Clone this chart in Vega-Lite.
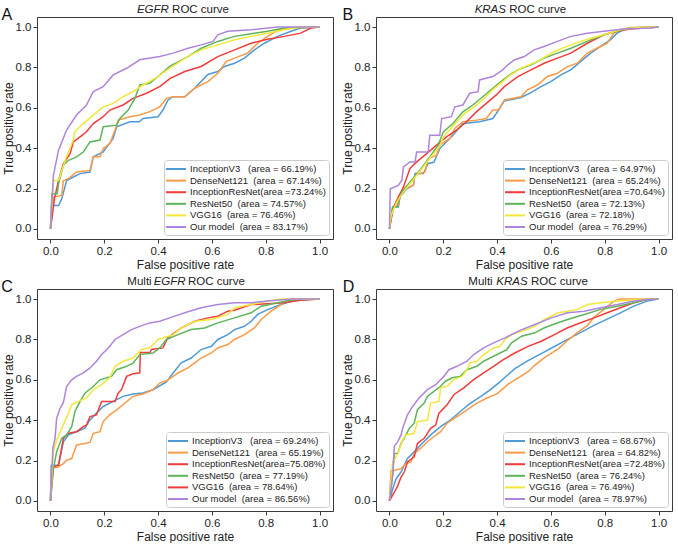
{
"$schema": "https://vega.github.io/schema/vega-lite/v6.json",
"padding": {"left": 0, "top": 3, "right": 0, "bottom": 0},
"spacing": 4,
"resolve": {"scale": {"x": "independent", "y": "independent", "color": "independent", "stroke": "independent"}, "legend": {"color": "independent"}},
"datasets": {
"A": [
{"model":"InceptionV3","fpr":0,"tpr":0},{"model":"InceptionV3","fpr":0.011,"tpr":0.116},{"model":"InceptionV3","fpr":0.03,"tpr":0.116},{"model":"InceptionV3","fpr":0.042,"tpr":0.149},{"model":"InceptionV3","fpr":0.06,"tpr":0.24},{"model":"InceptionV3","fpr":0.085,"tpr":0.257},{"model":"InceptionV3","fpr":0.11,"tpr":0.274},{"model":"InceptionV3","fpr":0.147,"tpr":0.282},{"model":"InceptionV3","fpr":0.159,"tpr":0.357},{"model":"InceptionV3","fpr":0.196,"tpr":0.381},{"model":"InceptionV3","fpr":0.233,"tpr":0.448},{"model":"InceptionV3","fpr":0.246,"tpr":0.506},{"model":"InceptionV3","fpr":0.295,"tpr":0.531},{"model":"InceptionV3","fpr":0.33,"tpr":0.531},{"model":"InceptionV3","fpr":0.344,"tpr":0.547},{"model":"InceptionV3","fpr":0.4,"tpr":0.556},{"model":"InceptionV3","fpr":0.418,"tpr":0.589},{"model":"InceptionV3","fpr":0.437,"tpr":0.639},{"model":"InceptionV3","fpr":0.456,"tpr":0.655},{"model":"InceptionV3","fpr":0.499,"tpr":0.655},{"model":"InceptionV3","fpr":0.536,"tpr":0.697},{"model":"InceptionV3","fpr":0.585,"tpr":0.765},{"model":"InceptionV3","fpr":0.622,"tpr":0.78},{"model":"InceptionV3","fpr":0.647,"tpr":0.805},{"model":"InceptionV3","fpr":0.684,"tpr":0.821},{"model":"InceptionV3","fpr":0.721,"tpr":0.846},{"model":"InceptionV3","fpr":0.758,"tpr":0.887},{"model":"InceptionV3","fpr":0.795,"tpr":0.92},{"model":"InceptionV3","fpr":0.844,"tpr":0.954},{"model":"InceptionV3","fpr":0.894,"tpr":0.979},{"model":"InceptionV3","fpr":0.93,"tpr":0.995},{"model":"InceptionV3","fpr":1,"tpr":1},
{"model":"DenseNet121","fpr":0,"tpr":0},{"model":"DenseNet121","fpr":0.011,"tpr":0.158},{"model":"DenseNet121","fpr":0.042,"tpr":0.166},{"model":"DenseNet121","fpr":0.048,"tpr":0.24},{"model":"DenseNet121","fpr":0.067,"tpr":0.249},{"model":"DenseNet121","fpr":0.097,"tpr":0.282},{"model":"DenseNet121","fpr":0.147,"tpr":0.29},{"model":"DenseNet121","fpr":0.159,"tpr":0.357},{"model":"DenseNet121","fpr":0.184,"tpr":0.357},{"model":"DenseNet121","fpr":0.196,"tpr":0.398},{"model":"DenseNet121","fpr":0.221,"tpr":0.423},{"model":"DenseNet121","fpr":0.24,"tpr":0.49},{"model":"DenseNet121","fpr":0.252,"tpr":0.539},{"model":"DenseNet121","fpr":0.295,"tpr":0.556},{"model":"DenseNet121","fpr":0.332,"tpr":0.564},{"model":"DenseNet121","fpr":0.369,"tpr":0.581},{"model":"DenseNet121","fpr":0.406,"tpr":0.605},{"model":"DenseNet121","fpr":0.431,"tpr":0.647},{"model":"DenseNet121","fpr":0.456,"tpr":0.655},{"model":"DenseNet121","fpr":0.499,"tpr":0.655},{"model":"DenseNet121","fpr":0.536,"tpr":0.697},{"model":"DenseNet121","fpr":0.585,"tpr":0.73},{"model":"DenseNet121","fpr":0.622,"tpr":0.771},{"model":"DenseNet121","fpr":0.653,"tpr":0.829},{"model":"DenseNet121","fpr":0.684,"tpr":0.846},{"model":"DenseNet121","fpr":0.733,"tpr":0.871},{"model":"DenseNet121","fpr":0.77,"tpr":0.92},{"model":"DenseNet121","fpr":0.807,"tpr":0.954},{"model":"DenseNet121","fpr":0.844,"tpr":0.984},{"model":"DenseNet121","fpr":0.869,"tpr":0.995},{"model":"DenseNet121","fpr":1,"tpr":1},
{"model":"InceptionResNet","fpr":0,"tpr":0},{"model":"InceptionResNet","fpr":0.015,"tpr":0.15},{"model":"InceptionResNet","fpr":0.03,"tpr":0.24},{"model":"InceptionResNet","fpr":0.048,"tpr":0.323},{"model":"InceptionResNet","fpr":0.073,"tpr":0.373},{"model":"InceptionResNet","fpr":0.085,"tpr":0.431},{"model":"InceptionResNet","fpr":0.11,"tpr":0.456},{"model":"InceptionResNet","fpr":0.134,"tpr":0.481},{"model":"InceptionResNet","fpr":0.159,"tpr":0.522},{"model":"InceptionResNet","fpr":0.196,"tpr":0.556},{"model":"InceptionResNet","fpr":0.221,"tpr":0.589},{"model":"InceptionResNet","fpr":0.27,"tpr":0.614},{"model":"InceptionResNet","fpr":0.307,"tpr":0.647},{"model":"InceptionResNet","fpr":0.357,"tpr":0.672},{"model":"InceptionResNet","fpr":0.406,"tpr":0.705},{"model":"InceptionResNet","fpr":0.445,"tpr":0.746},{"model":"InceptionResNet","fpr":0.499,"tpr":0.78},{"model":"InceptionResNet","fpr":0.56,"tpr":0.805},{"model":"InceptionResNet","fpr":0.622,"tpr":0.854},{"model":"InceptionResNet","fpr":0.684,"tpr":0.887},{"model":"InceptionResNet","fpr":0.746,"tpr":0.92},{"model":"InceptionResNet","fpr":0.807,"tpr":0.94},{"model":"InceptionResNet","fpr":0.869,"tpr":0.954},{"model":"InceptionResNet","fpr":0.93,"tpr":0.97},{"model":"InceptionResNet","fpr":0.968,"tpr":0.995},{"model":"InceptionResNet","fpr":1,"tpr":1},
{"model":"ResNet50","fpr":0,"tpr":0},{"model":"ResNet50","fpr":0.005,"tpr":0.174},{"model":"ResNet50","fpr":0.025,"tpr":0.174},{"model":"ResNet50","fpr":0.03,"tpr":0.224},{"model":"ResNet50","fpr":0.048,"tpr":0.315},{"model":"ResNet50","fpr":0.067,"tpr":0.34},{"model":"ResNet50","fpr":0.097,"tpr":0.357},{"model":"ResNet50","fpr":0.122,"tpr":0.381},{"model":"ResNet50","fpr":0.147,"tpr":0.431},{"model":"ResNet50","fpr":0.184,"tpr":0.44},{"model":"ResNet50","fpr":0.196,"tpr":0.506},{"model":"ResNet50","fpr":0.246,"tpr":0.514},{"model":"ResNet50","fpr":0.258,"tpr":0.547},{"model":"ResNet50","fpr":0.289,"tpr":0.589},{"model":"ResNet50","fpr":0.314,"tpr":0.647},{"model":"ResNet50","fpr":0.332,"tpr":0.713},{"model":"ResNet50","fpr":0.369,"tpr":0.721},{"model":"ResNet50","fpr":0.4,"tpr":0.755},{"model":"ResNet50","fpr":0.443,"tpr":0.805},{"model":"ResNet50","fpr":0.511,"tpr":0.854},{"model":"ResNet50","fpr":0.56,"tpr":0.895},{"model":"ResNet50","fpr":0.622,"tpr":0.929},{"model":"ResNet50","fpr":0.684,"tpr":0.954},{"model":"ResNet50","fpr":0.746,"tpr":0.967},{"model":"ResNet50","fpr":0.807,"tpr":0.979},{"model":"ResNet50","fpr":0.869,"tpr":0.995},{"model":"ResNet50","fpr":1,"tpr":1},
{"model":"VGG16","fpr":0,"tpr":0},{"model":"VGG16","fpr":0.011,"tpr":0.24},{"model":"VGG16","fpr":0.03,"tpr":0.24},{"model":"VGG16","fpr":0.06,"tpr":0.36},{"model":"VGG16","fpr":0.085,"tpr":0.44},{"model":"VGG16","fpr":0.09,"tpr":0.48},{"model":"VGG16","fpr":0.122,"tpr":0.522},{"model":"VGG16","fpr":0.159,"tpr":0.564},{"model":"VGG16","fpr":0.196,"tpr":0.605},{"model":"VGG16","fpr":0.233,"tpr":0.622},{"model":"VGG16","fpr":0.27,"tpr":0.655},{"model":"VGG16","fpr":0.307,"tpr":0.68},{"model":"VGG16","fpr":0.344,"tpr":0.713},{"model":"VGG16","fpr":0.394,"tpr":0.75},{"model":"VGG16","fpr":0.437,"tpr":0.79},{"model":"VGG16","fpr":0.511,"tpr":0.855},{"model":"VGG16","fpr":0.56,"tpr":0.887},{"model":"VGG16","fpr":0.622,"tpr":0.912},{"model":"VGG16","fpr":0.684,"tpr":0.937},{"model":"VGG16","fpr":0.746,"tpr":0.954},{"model":"VGG16","fpr":0.807,"tpr":0.97},{"model":"VGG16","fpr":0.869,"tpr":0.987},{"model":"VGG16","fpr":0.93,"tpr":1},{"model":"VGG16","fpr":1,"tpr":1},
{"model":"Our model","fpr":0,"tpr":0},{"model":"Our model","fpr":0.011,"tpr":0.266},{"model":"Our model","fpr":0.03,"tpr":0.39},{"model":"Our model","fpr":0.06,"tpr":0.49},{"model":"Our model","fpr":0.097,"tpr":0.564},{"model":"Our model","fpr":0.134,"tpr":0.614},{"model":"Our model","fpr":0.159,"tpr":0.68},{"model":"Our model","fpr":0.196,"tpr":0.705},{"model":"Our model","fpr":0.233,"tpr":0.763},{"model":"Our model","fpr":0.283,"tpr":0.796},{"model":"Our model","fpr":0.332,"tpr":0.838},{"model":"Our model","fpr":0.406,"tpr":0.854},{"model":"Our model","fpr":0.456,"tpr":0.871},{"model":"Our model","fpr":0.511,"tpr":0.895},{"model":"Our model","fpr":0.56,"tpr":0.912},{"model":"Our model","fpr":0.604,"tpr":0.929},{"model":"Our model","fpr":0.622,"tpr":0.962},{"model":"Our model","fpr":0.659,"tpr":0.979},{"model":"Our model","fpr":0.746,"tpr":0.987},{"model":"Our model","fpr":0.844,"tpr":1},{"model":"Our model","fpr":1,"tpr":1}
],
"B": [
{"model":"InceptionV3","fpr":0,"tpr":0},{"model":"InceptionV3","fpr":0.012,"tpr":0.108},{"model":"InceptionV3","fpr":0.033,"tpr":0.108},{"model":"InceptionV3","fpr":0.039,"tpr":0.158},{"model":"InceptionV3","fpr":0.064,"tpr":0.199},{"model":"InceptionV3","fpr":0.089,"tpr":0.216},{"model":"InceptionV3","fpr":0.095,"tpr":0.274},{"model":"InceptionV3","fpr":0.126,"tpr":0.274},{"model":"InceptionV3","fpr":0.144,"tpr":0.324},{"model":"InceptionV3","fpr":0.165,"tpr":0.33},{"model":"InceptionV3","fpr":0.187,"tpr":0.398},{"model":"InceptionV3","fpr":0.236,"tpr":0.464},{"model":"InceptionV3","fpr":0.273,"tpr":0.522},{"model":"InceptionV3","fpr":0.335,"tpr":0.531},{"model":"InceptionV3","fpr":0.384,"tpr":0.547},{"model":"InceptionV3","fpr":0.397,"tpr":0.572},{"model":"InceptionV3","fpr":0.427,"tpr":0.634},{"model":"InceptionV3","fpr":0.489,"tpr":0.651},{"model":"InceptionV3","fpr":0.526,"tpr":0.675},{"model":"InceptionV3","fpr":0.563,"tpr":0.705},{"model":"InceptionV3","fpr":0.6,"tpr":0.73},{"model":"InceptionV3","fpr":0.637,"tpr":0.763},{"model":"InceptionV3","fpr":0.674,"tpr":0.788},{"model":"InceptionV3","fpr":0.711,"tpr":0.83},{"model":"InceptionV3","fpr":0.748,"tpr":0.871},{"model":"InceptionV3","fpr":0.784,"tpr":0.904},{"model":"InceptionV3","fpr":0.821,"tpr":0.937},{"model":"InceptionV3","fpr":0.846,"tpr":0.97},{"model":"InceptionV3","fpr":0.87,"tpr":0.987},{"model":"InceptionV3","fpr":0.9,"tpr":0.995},{"model":"InceptionV3","fpr":1,"tpr":1},
{"model":"DenseNet121","fpr":0,"tpr":0},{"model":"DenseNet121","fpr":0.012,"tpr":0.108},{"model":"DenseNet121","fpr":0.033,"tpr":0.116},{"model":"DenseNet121","fpr":0.039,"tpr":0.166},{"model":"DenseNet121","fpr":0.058,"tpr":0.199},{"model":"DenseNet121","fpr":0.089,"tpr":0.216},{"model":"DenseNet121","fpr":0.095,"tpr":0.266},{"model":"DenseNet121","fpr":0.132,"tpr":0.282},{"model":"DenseNet121","fpr":0.144,"tpr":0.348},{"model":"DenseNet121","fpr":0.175,"tpr":0.365},{"model":"DenseNet121","fpr":0.187,"tpr":0.415},{"model":"DenseNet121","fpr":0.224,"tpr":0.448},{"model":"DenseNet121","fpr":0.243,"tpr":0.498},{"model":"DenseNet121","fpr":0.273,"tpr":0.531},{"model":"DenseNet121","fpr":0.323,"tpr":0.539},{"model":"DenseNet121","fpr":0.36,"tpr":0.547},{"model":"DenseNet121","fpr":0.384,"tpr":0.589},{"model":"DenseNet121","fpr":0.405,"tpr":0.589},{"model":"DenseNet121","fpr":0.427,"tpr":0.639},{"model":"DenseNet121","fpr":0.489,"tpr":0.655},{"model":"DenseNet121","fpr":0.513,"tpr":0.689},{"model":"DenseNet121","fpr":0.55,"tpr":0.713},{"model":"DenseNet121","fpr":0.587,"tpr":0.755},{"model":"DenseNet121","fpr":0.624,"tpr":0.771},{"model":"DenseNet121","fpr":0.661,"tpr":0.804},{"model":"DenseNet121","fpr":0.698,"tpr":0.821},{"model":"DenseNet121","fpr":0.735,"tpr":0.871},{"model":"DenseNet121","fpr":0.772,"tpr":0.895},{"model":"DenseNet121","fpr":0.809,"tpr":0.92},{"model":"DenseNet121","fpr":0.834,"tpr":0.97},{"model":"DenseNet121","fpr":0.858,"tpr":0.987},{"model":"DenseNet121","fpr":0.895,"tpr":0.998},{"model":"DenseNet121","fpr":1,"tpr":1},
{"model":"InceptionResNet","fpr":0,"tpr":0},{"model":"InceptionResNet","fpr":0.015,"tpr":0.108},{"model":"InceptionResNet","fpr":0.033,"tpr":0.158},{"model":"InceptionResNet","fpr":0.052,"tpr":0.208},{"model":"InceptionResNet","fpr":0.076,"tpr":0.299},{"model":"InceptionResNet","fpr":0.101,"tpr":0.332},{"model":"InceptionResNet","fpr":0.138,"tpr":0.373},{"model":"InceptionResNet","fpr":0.175,"tpr":0.415},{"model":"InceptionResNet","fpr":0.212,"tpr":0.456},{"model":"InceptionResNet","fpr":0.249,"tpr":0.489},{"model":"InceptionResNet","fpr":0.286,"tpr":0.531},{"model":"InceptionResNet","fpr":0.323,"tpr":0.58},{"model":"InceptionResNet","fpr":0.36,"tpr":0.622},{"model":"InceptionResNet","fpr":0.397,"tpr":0.664},{"model":"InceptionResNet","fpr":0.427,"tpr":0.705},{"model":"InceptionResNet","fpr":0.477,"tpr":0.755},{"model":"InceptionResNet","fpr":0.526,"tpr":0.788},{"model":"InceptionResNet","fpr":0.575,"tpr":0.821},{"model":"InceptionResNet","fpr":0.624,"tpr":0.846},{"model":"InceptionResNet","fpr":0.674,"tpr":0.871},{"model":"InceptionResNet","fpr":0.735,"tpr":0.92},{"model":"InceptionResNet","fpr":0.797,"tpr":0.962},{"model":"InceptionResNet","fpr":0.846,"tpr":0.979},{"model":"InceptionResNet","fpr":0.895,"tpr":0.99},{"model":"InceptionResNet","fpr":1,"tpr":1},
{"model":"ResNet50","fpr":0,"tpr":0},{"model":"ResNet50","fpr":0.012,"tpr":0.108},{"model":"ResNet50","fpr":0.027,"tpr":0.108},{"model":"ResNet50","fpr":0.046,"tpr":0.184},{"model":"ResNet50","fpr":0.076,"tpr":0.233},{"model":"ResNet50","fpr":0.113,"tpr":0.291},{"model":"ResNet50","fpr":0.15,"tpr":0.357},{"model":"ResNet50","fpr":0.181,"tpr":0.415},{"model":"ResNet50","fpr":0.2,"tpr":0.481},{"model":"ResNet50","fpr":0.236,"tpr":0.522},{"model":"ResNet50","fpr":0.273,"tpr":0.58},{"model":"ResNet50","fpr":0.31,"tpr":0.614},{"model":"ResNet50","fpr":0.347,"tpr":0.655},{"model":"ResNet50","fpr":0.384,"tpr":0.697},{"model":"ResNet50","fpr":0.421,"tpr":0.738},{"model":"ResNet50","fpr":0.446,"tpr":0.763},{"model":"ResNet50","fpr":0.477,"tpr":0.788},{"model":"ResNet50","fpr":0.526,"tpr":0.813},{"model":"ResNet50","fpr":0.575,"tpr":0.846},{"model":"ResNet50","fpr":0.624,"tpr":0.871},{"model":"ResNet50","fpr":0.674,"tpr":0.895},{"model":"ResNet50","fpr":0.735,"tpr":0.929},{"model":"ResNet50","fpr":0.797,"tpr":0.962},{"model":"ResNet50","fpr":0.858,"tpr":0.984},{"model":"ResNet50","fpr":0.895,"tpr":0.995},{"model":"ResNet50","fpr":1,"tpr":1},
{"model":"VGG16","fpr":0,"tpr":0},{"model":"VGG16","fpr":0.006,"tpr":0.066},{"model":"VGG16","fpr":0.027,"tpr":0.133},{"model":"VGG16","fpr":0.05,"tpr":0.18},{"model":"VGG16","fpr":0.08,"tpr":0.23},{"model":"VGG16","fpr":0.113,"tpr":0.285},{"model":"VGG16","fpr":0.15,"tpr":0.35},{"model":"VGG16","fpr":0.187,"tpr":0.41},{"model":"VGG16","fpr":0.2,"tpr":0.455},{"model":"VGG16","fpr":0.236,"tpr":0.51},{"model":"VGG16","fpr":0.273,"tpr":0.565},{"model":"VGG16","fpr":0.31,"tpr":0.6},{"model":"VGG16","fpr":0.347,"tpr":0.64},{"model":"VGG16","fpr":0.384,"tpr":0.69},{"model":"VGG16","fpr":0.421,"tpr":0.73},{"model":"VGG16","fpr":0.446,"tpr":0.76},{"model":"VGG16","fpr":0.489,"tpr":0.796},{"model":"VGG16","fpr":0.55,"tpr":0.83},{"model":"VGG16","fpr":0.612,"tpr":0.879},{"model":"VGG16","fpr":0.674,"tpr":0.912},{"model":"VGG16","fpr":0.735,"tpr":0.94},{"model":"VGG16","fpr":0.797,"tpr":0.962},{"model":"VGG16","fpr":0.858,"tpr":0.987},{"model":"VGG16","fpr":0.9,"tpr":0.995},{"model":"VGG16","fpr":1,"tpr":1},
{"model":"Our model","fpr":0,"tpr":0},{"model":"Our model","fpr":0.003,"tpr":0.199},{"model":"Our model","fpr":0.033,"tpr":0.216},{"model":"Our model","fpr":0.046,"tpr":0.241},{"model":"Our model","fpr":0.052,"tpr":0.307},{"model":"Our model","fpr":0.076,"tpr":0.332},{"model":"Our model","fpr":0.095,"tpr":0.332},{"model":"Our model","fpr":0.101,"tpr":0.381},{"model":"Our model","fpr":0.144,"tpr":0.381},{"model":"Our model","fpr":0.15,"tpr":0.464},{"model":"Our model","fpr":0.187,"tpr":0.464},{"model":"Our model","fpr":0.194,"tpr":0.547},{"model":"Our model","fpr":0.23,"tpr":0.556},{"model":"Our model","fpr":0.243,"tpr":0.605},{"model":"Our model","fpr":0.273,"tpr":0.614},{"model":"Our model","fpr":0.298,"tpr":0.672},{"model":"Our model","fpr":0.329,"tpr":0.68},{"model":"Our model","fpr":0.335,"tpr":0.738},{"model":"Our model","fpr":0.384,"tpr":0.755},{"model":"Our model","fpr":0.421,"tpr":0.788},{"model":"Our model","fpr":0.44,"tpr":0.813},{"model":"Our model","fpr":0.464,"tpr":0.837},{"model":"Our model","fpr":0.501,"tpr":0.854},{"model":"Our model","fpr":0.538,"tpr":0.887},{"model":"Our model","fpr":0.575,"tpr":0.904},{"model":"Our model","fpr":0.624,"tpr":0.929},{"model":"Our model","fpr":0.674,"tpr":0.954},{"model":"Our model","fpr":0.735,"tpr":0.97},{"model":"Our model","fpr":0.797,"tpr":0.979},{"model":"Our model","fpr":0.846,"tpr":0.987},{"model":"Our model","fpr":0.87,"tpr":0.99},{"model":"Our model","fpr":0.97,"tpr":0.995},{"model":"Our model","fpr":1,"tpr":1}
],
"C": [
{"model":"InceptionV3","fpr":0,"tpr":0},{"model":"InceptionV3","fpr":0.003,"tpr":0.177},{"model":"InceptionV3","fpr":0.03,"tpr":0.177},{"model":"InceptionV3","fpr":0.048,"tpr":0.293},{"model":"InceptionV3","fpr":0.067,"tpr":0.327},{"model":"InceptionV3","fpr":0.097,"tpr":0.343},{"model":"InceptionV3","fpr":0.128,"tpr":0.36},{"model":"InceptionV3","fpr":0.147,"tpr":0.401},{"model":"InceptionV3","fpr":0.171,"tpr":0.435},{"model":"InceptionV3","fpr":0.196,"tpr":0.468},{"model":"InceptionV3","fpr":0.233,"tpr":0.493},{"model":"InceptionV3","fpr":0.27,"tpr":0.518},{"model":"InceptionV3","fpr":0.307,"tpr":0.53},{"model":"InceptionV3","fpr":0.344,"tpr":0.535},{"model":"InceptionV3","fpr":0.381,"tpr":0.551},{"model":"InceptionV3","fpr":0.431,"tpr":0.59},{"model":"InceptionV3","fpr":0.456,"tpr":0.634},{"model":"InceptionV3","fpr":0.486,"tpr":0.684},{"model":"InceptionV3","fpr":0.523,"tpr":0.708},{"model":"InceptionV3","fpr":0.56,"tpr":0.75},{"model":"InceptionV3","fpr":0.598,"tpr":0.766},{"model":"InceptionV3","fpr":0.622,"tpr":0.8},{"model":"InceptionV3","fpr":0.659,"tpr":0.824},{"model":"InceptionV3","fpr":0.684,"tpr":0.849},{"model":"InceptionV3","fpr":0.721,"tpr":0.865},{"model":"InceptionV3","fpr":0.746,"tpr":0.89},{"model":"InceptionV3","fpr":0.77,"tpr":0.924},{"model":"InceptionV3","fpr":0.807,"tpr":0.948},{"model":"InceptionV3","fpr":0.857,"tpr":0.973},{"model":"InceptionV3","fpr":0.906,"tpr":0.994},{"model":"InceptionV3","fpr":1,"tpr":1},
{"model":"DenseNet121","fpr":0,"tpr":0},{"model":"DenseNet121","fpr":0.003,"tpr":0.16},{"model":"DenseNet121","fpr":0.03,"tpr":0.169},{"model":"DenseNet121","fpr":0.048,"tpr":0.185},{"model":"DenseNet121","fpr":0.06,"tpr":0.202},{"model":"DenseNet121","fpr":0.079,"tpr":0.21},{"model":"DenseNet121","fpr":0.097,"tpr":0.277},{"model":"DenseNet121","fpr":0.128,"tpr":0.285},{"model":"DenseNet121","fpr":0.147,"tpr":0.29},{"model":"DenseNet121","fpr":0.159,"tpr":0.335},{"model":"DenseNet121","fpr":0.184,"tpr":0.343},{"model":"DenseNet121","fpr":0.196,"tpr":0.393},{"model":"DenseNet121","fpr":0.22,"tpr":0.426},{"model":"DenseNet121","fpr":0.246,"tpr":0.451},{"model":"DenseNet121","fpr":0.277,"tpr":0.485},{"model":"DenseNet121","fpr":0.307,"tpr":0.518},{"model":"DenseNet121","fpr":0.344,"tpr":0.53},{"model":"DenseNet121","fpr":0.381,"tpr":0.551},{"model":"DenseNet121","fpr":0.406,"tpr":0.584},{"model":"DenseNet121","fpr":0.431,"tpr":0.595},{"model":"DenseNet121","fpr":0.456,"tpr":0.617},{"model":"DenseNet121","fpr":0.474,"tpr":0.634},{"model":"DenseNet121","fpr":0.511,"tpr":0.659},{"model":"DenseNet121","fpr":0.536,"tpr":0.684},{"model":"DenseNet121","fpr":0.56,"tpr":0.708},{"model":"DenseNet121","fpr":0.598,"tpr":0.733},{"model":"DenseNet121","fpr":0.622,"tpr":0.758},{"model":"DenseNet121","fpr":0.659,"tpr":0.775},{"model":"DenseNet121","fpr":0.684,"tpr":0.8},{"model":"DenseNet121","fpr":0.721,"tpr":0.824},{"model":"DenseNet121","fpr":0.758,"tpr":0.857},{"model":"DenseNet121","fpr":0.783,"tpr":0.899},{"model":"DenseNet121","fpr":0.82,"tpr":0.94},{"model":"DenseNet121","fpr":0.857,"tpr":0.973},{"model":"DenseNet121","fpr":0.881,"tpr":0.998},{"model":"DenseNet121","fpr":1,"tpr":1},
{"model":"InceptionResNet","fpr":0,"tpr":0},{"model":"InceptionResNet","fpr":0.011,"tpr":0.169},{"model":"InceptionResNet","fpr":0.03,"tpr":0.177},{"model":"InceptionResNet","fpr":0.048,"tpr":0.31},{"model":"InceptionResNet","fpr":0.067,"tpr":0.335},{"model":"InceptionResNet","fpr":0.097,"tpr":0.343},{"model":"InceptionResNet","fpr":0.122,"tpr":0.368},{"model":"InceptionResNet","fpr":0.134,"tpr":0.376},{"model":"InceptionResNet","fpr":0.147,"tpr":0.418},{"model":"InceptionResNet","fpr":0.171,"tpr":0.426},{"model":"InceptionResNet","fpr":0.19,"tpr":0.493},{"model":"InceptionResNet","fpr":0.24,"tpr":0.493},{"model":"InceptionResNet","fpr":0.252,"tpr":0.535},{"model":"InceptionResNet","fpr":0.264,"tpr":0.551},{"model":"InceptionResNet","fpr":0.283,"tpr":0.617},{"model":"InceptionResNet","fpr":0.307,"tpr":0.63},{"model":"InceptionResNet","fpr":0.332,"tpr":0.635},{"model":"InceptionResNet","fpr":0.334,"tpr":0.735},{"model":"InceptionResNet","fpr":0.37,"tpr":0.735},{"model":"InceptionResNet","fpr":0.375,"tpr":0.75},{"model":"InceptionResNet","fpr":0.418,"tpr":0.758},{"model":"InceptionResNet","fpr":0.437,"tpr":0.81},{"model":"InceptionResNet","fpr":0.486,"tpr":0.857},{"model":"InceptionResNet","fpr":0.536,"tpr":0.89},{"model":"InceptionResNet","fpr":0.585,"tpr":0.907},{"model":"InceptionResNet","fpr":0.622,"tpr":0.915},{"model":"InceptionResNet","fpr":0.659,"tpr":0.94},{"model":"InceptionResNet","fpr":0.684,"tpr":0.945},{"model":"InceptionResNet","fpr":0.746,"tpr":0.973},{"model":"InceptionResNet","fpr":0.807,"tpr":0.977},{"model":"InceptionResNet","fpr":0.869,"tpr":0.982},{"model":"InceptionResNet","fpr":0.93,"tpr":0.994},{"model":"InceptionResNet","fpr":1,"tpr":1},
{"model":"ResNet50","fpr":0,"tpr":0},{"model":"ResNet50","fpr":0.011,"tpr":0.16},{"model":"ResNet50","fpr":0.023,"tpr":0.244},{"model":"ResNet50","fpr":0.042,"tpr":0.31},{"model":"ResNet50","fpr":0.06,"tpr":0.327},{"model":"ResNet50","fpr":0.079,"tpr":0.368},{"model":"ResNet50","fpr":0.091,"tpr":0.443},{"model":"ResNet50","fpr":0.11,"tpr":0.493},{"model":"ResNet50","fpr":0.128,"tpr":0.534},{"model":"ResNet50","fpr":0.159,"tpr":0.567},{"model":"ResNet50","fpr":0.184,"tpr":0.6},{"model":"ResNet50","fpr":0.227,"tpr":0.617},{"model":"ResNet50","fpr":0.246,"tpr":0.65},{"model":"ResNet50","fpr":0.283,"tpr":0.667},{"model":"ResNet50","fpr":0.307,"tpr":0.683},{"model":"ResNet50","fpr":0.332,"tpr":0.725},{"model":"ResNet50","fpr":0.381,"tpr":0.733},{"model":"ResNet50","fpr":0.406,"tpr":0.758},{"model":"ResNet50","fpr":0.431,"tpr":0.8},{"model":"ResNet50","fpr":0.474,"tpr":0.824},{"model":"ResNet50","fpr":0.523,"tpr":0.849},{"model":"ResNet50","fpr":0.573,"tpr":0.857},{"model":"ResNet50","fpr":0.622,"tpr":0.882},{"model":"ResNet50","fpr":0.684,"tpr":0.907},{"model":"ResNet50","fpr":0.746,"tpr":0.932},{"model":"ResNet50","fpr":0.783,"tpr":0.965},{"model":"ResNet50","fpr":0.844,"tpr":0.982},{"model":"ResNet50","fpr":0.906,"tpr":0.998},{"model":"ResNet50","fpr":1,"tpr":1},
{"model":"VGG16","fpr":0,"tpr":0},{"model":"VGG16","fpr":0.011,"tpr":0.244},{"model":"VGG16","fpr":0.023,"tpr":0.3},{"model":"VGG16","fpr":0.042,"tpr":0.36},{"model":"VGG16","fpr":0.067,"tpr":0.435},{"model":"VGG16","fpr":0.079,"tpr":0.476},{"model":"VGG16","fpr":0.104,"tpr":0.493},{"model":"VGG16","fpr":0.134,"tpr":0.51},{"model":"VGG16","fpr":0.159,"tpr":0.551},{"model":"VGG16","fpr":0.19,"tpr":0.576},{"model":"VGG16","fpr":0.22,"tpr":0.61},{"model":"VGG16","fpr":0.24,"tpr":0.667},{"model":"VGG16","fpr":0.27,"tpr":0.692},{"model":"VGG16","fpr":0.307,"tpr":0.708},{"model":"VGG16","fpr":0.338,"tpr":0.75},{"model":"VGG16","fpr":0.369,"tpr":0.758},{"model":"VGG16","fpr":0.4,"tpr":0.8},{"model":"VGG16","fpr":0.456,"tpr":0.824},{"model":"VGG16","fpr":0.486,"tpr":0.857},{"model":"VGG16","fpr":0.536,"tpr":0.89},{"model":"VGG16","fpr":0.598,"tpr":0.899},{"model":"VGG16","fpr":0.659,"tpr":0.924},{"model":"VGG16","fpr":0.684,"tpr":0.957},{"model":"VGG16","fpr":0.746,"tpr":0.973},{"model":"VGG16","fpr":0.807,"tpr":0.99},{"model":"VGG16","fpr":0.857,"tpr":1},{"model":"VGG16","fpr":1,"tpr":1},
{"model":"Our model","fpr":0,"tpr":0},{"model":"Our model","fpr":0.009,"tpr":0.26},{"model":"Our model","fpr":0.017,"tpr":0.31},{"model":"Our model","fpr":0.023,"tpr":0.41},{"model":"Our model","fpr":0.036,"tpr":0.46},{"model":"Our model","fpr":0.048,"tpr":0.487},{"model":"Our model","fpr":0.06,"tpr":0.567},{"model":"Our model","fpr":0.079,"tpr":0.6},{"model":"Our model","fpr":0.097,"tpr":0.617},{"model":"Our model","fpr":0.122,"tpr":0.634},{"model":"Our model","fpr":0.147,"tpr":0.659},{"model":"Our model","fpr":0.171,"tpr":0.692},{"model":"Our model","fpr":0.19,"tpr":0.725},{"model":"Our model","fpr":0.215,"tpr":0.758},{"model":"Our model","fpr":0.24,"tpr":0.8},{"model":"Our model","fpr":0.27,"tpr":0.824},{"model":"Our model","fpr":0.301,"tpr":0.849},{"model":"Our model","fpr":0.332,"tpr":0.865},{"model":"Our model","fpr":0.369,"tpr":0.882},{"model":"Our model","fpr":0.406,"tpr":0.89},{"model":"Our model","fpr":0.443,"tpr":0.907},{"model":"Our model","fpr":0.499,"tpr":0.932},{"model":"Our model","fpr":0.56,"tpr":0.957},{"model":"Our model","fpr":0.622,"tpr":0.973},{"model":"Our model","fpr":0.684,"tpr":0.982},{"model":"Our model","fpr":0.746,"tpr":0.982},{"model":"Our model","fpr":0.807,"tpr":0.99},{"model":"Our model","fpr":0.9,"tpr":1},{"model":"Our model","fpr":1,"tpr":1}
],
"D": [
{"model":"InceptionV3","fpr":0,"tpr":0},{"model":"InceptionV3","fpr":0.012,"tpr":0.06},{"model":"InceptionV3","fpr":0.025,"tpr":0.11},{"model":"InceptionV3","fpr":0.043,"tpr":0.143},{"model":"InceptionV3","fpr":0.067,"tpr":0.21},{"model":"InceptionV3","fpr":0.092,"tpr":0.243},{"model":"InceptionV3","fpr":0.116,"tpr":0.277},{"model":"InceptionV3","fpr":0.153,"tpr":0.327},{"model":"InceptionV3","fpr":0.19,"tpr":0.368},{"model":"InceptionV3","fpr":0.227,"tpr":0.401},{"model":"InceptionV3","fpr":0.263,"tpr":0.443},{"model":"InceptionV3","fpr":0.3,"tpr":0.483},{"model":"InceptionV3","fpr":0.337,"tpr":0.515},{"model":"InceptionV3","fpr":0.374,"tpr":0.55},{"model":"InceptionV3","fpr":0.411,"tpr":0.59},{"model":"InceptionV3","fpr":0.436,"tpr":0.62},{"model":"InceptionV3","fpr":0.466,"tpr":0.655},{"model":"InceptionV3","fpr":0.515,"tpr":0.695},{"model":"InceptionV3","fpr":0.564,"tpr":0.73},{"model":"InceptionV3","fpr":0.613,"tpr":0.765},{"model":"InceptionV3","fpr":0.662,"tpr":0.8},{"model":"InceptionV3","fpr":0.711,"tpr":0.835},{"model":"InceptionV3","fpr":0.76,"tpr":0.87},{"model":"InceptionV3","fpr":0.809,"tpr":0.901},{"model":"InceptionV3","fpr":0.858,"tpr":0.932},{"model":"InceptionV3","fpr":0.908,"tpr":0.965},{"model":"InceptionV3","fpr":0.957,"tpr":0.99},{"model":"InceptionV3","fpr":1,"tpr":1},
{"model":"DenseNet121","fpr":0,"tpr":0},{"model":"DenseNet121","fpr":0.006,"tpr":0.151},{"model":"DenseNet121","fpr":0.018,"tpr":0.151},{"model":"DenseNet121","fpr":0.043,"tpr":0.16},{"model":"DenseNet121","fpr":0.061,"tpr":0.185},{"model":"DenseNet121","fpr":0.08,"tpr":0.193},{"model":"DenseNet121","fpr":0.092,"tpr":0.235},{"model":"DenseNet121","fpr":0.116,"tpr":0.26},{"model":"DenseNet121","fpr":0.141,"tpr":0.293},{"model":"DenseNet121","fpr":0.165,"tpr":0.318},{"model":"DenseNet121","fpr":0.19,"tpr":0.343},{"model":"DenseNet121","fpr":0.214,"tpr":0.385},{"model":"DenseNet121","fpr":0.251,"tpr":0.418},{"model":"DenseNet121","fpr":0.288,"tpr":0.451},{"model":"DenseNet121","fpr":0.325,"tpr":0.485},{"model":"DenseNet121","fpr":0.362,"tpr":0.51},{"model":"DenseNet121","fpr":0.399,"tpr":0.53},{"model":"DenseNet121","fpr":0.417,"tpr":0.55},{"model":"DenseNet121","fpr":0.442,"tpr":0.58},{"model":"DenseNet121","fpr":0.479,"tpr":0.61},{"model":"DenseNet121","fpr":0.515,"tpr":0.64},{"model":"DenseNet121","fpr":0.54,"tpr":0.672},{"model":"DenseNet121","fpr":0.576,"tpr":0.71},{"model":"DenseNet121","fpr":0.626,"tpr":0.752},{"model":"DenseNet121","fpr":0.662,"tpr":0.795},{"model":"DenseNet121","fpr":0.699,"tpr":0.835},{"model":"DenseNet121","fpr":0.736,"tpr":0.87},{"model":"DenseNet121","fpr":0.76,"tpr":0.91},{"model":"DenseNet121","fpr":0.797,"tpr":0.949},{"model":"DenseNet121","fpr":0.834,"tpr":0.99},{"model":"DenseNet121","fpr":0.858,"tpr":1},{"model":"DenseNet121","fpr":1,"tpr":1},
{"model":"InceptionResNet","fpr":0,"tpr":0},{"model":"InceptionResNet","fpr":0.018,"tpr":0.043},{"model":"InceptionResNet","fpr":0.031,"tpr":0.076},{"model":"InceptionResNet","fpr":0.043,"tpr":0.118},{"model":"InceptionResNet","fpr":0.055,"tpr":0.143},{"model":"InceptionResNet","fpr":0.067,"tpr":0.193},{"model":"InceptionResNet","fpr":0.092,"tpr":0.218},{"model":"InceptionResNet","fpr":0.104,"tpr":0.285},{"model":"InceptionResNet","fpr":0.129,"tpr":0.31},{"model":"InceptionResNet","fpr":0.153,"tpr":0.36},{"model":"InceptionResNet","fpr":0.172,"tpr":0.376},{"model":"InceptionResNet","fpr":0.184,"tpr":0.435},{"model":"InceptionResNet","fpr":0.214,"tpr":0.476},{"model":"InceptionResNet","fpr":0.239,"tpr":0.526},{"model":"InceptionResNet","fpr":0.276,"tpr":0.56},{"model":"InceptionResNet","fpr":0.313,"tpr":0.601},{"model":"InceptionResNet","fpr":0.35,"tpr":0.634},{"model":"InceptionResNet","fpr":0.387,"tpr":0.667},{"model":"InceptionResNet","fpr":0.423,"tpr":0.7},{"model":"InceptionResNet","fpr":0.466,"tpr":0.733},{"model":"InceptionResNet","fpr":0.515,"tpr":0.766},{"model":"InceptionResNet","fpr":0.564,"tpr":0.791},{"model":"InceptionResNet","fpr":0.613,"tpr":0.824},{"model":"InceptionResNet","fpr":0.662,"tpr":0.858},{"model":"InceptionResNet","fpr":0.711,"tpr":0.883},{"model":"InceptionResNet","fpr":0.76,"tpr":0.907},{"model":"InceptionResNet","fpr":0.809,"tpr":0.932},{"model":"InceptionResNet","fpr":0.858,"tpr":0.957},{"model":"InceptionResNet","fpr":0.908,"tpr":0.982},{"model":"InceptionResNet","fpr":0.957,"tpr":0.998},{"model":"InceptionResNet","fpr":1,"tpr":1},
{"model":"ResNet50","fpr":0,"tpr":0},{"model":"ResNet50","fpr":0.012,"tpr":0.128},{"model":"ResNet50","fpr":0.018,"tpr":0.235},{"model":"ResNet50","fpr":0.031,"tpr":0.235},{"model":"ResNet50","fpr":0.043,"tpr":0.285},{"model":"ResNet50","fpr":0.055,"tpr":0.31},{"model":"ResNet50","fpr":0.074,"tpr":0.36},{"model":"ResNet50","fpr":0.092,"tpr":0.385},{"model":"ResNet50","fpr":0.104,"tpr":0.452},{"model":"ResNet50","fpr":0.129,"tpr":0.485},{"model":"ResNet50","fpr":0.141,"tpr":0.518},{"model":"ResNet50","fpr":0.165,"tpr":0.543},{"model":"ResNet50","fpr":0.19,"tpr":0.568},{"model":"ResNet50","fpr":0.208,"tpr":0.593},{"model":"ResNet50","fpr":0.233,"tpr":0.61},{"model":"ResNet50","fpr":0.263,"tpr":0.617},{"model":"ResNet50","fpr":0.288,"tpr":0.65},{"model":"ResNet50","fpr":0.325,"tpr":0.667},{"model":"ResNet50","fpr":0.35,"tpr":0.692},{"model":"ResNet50","fpr":0.374,"tpr":0.708},{"model":"ResNet50","fpr":0.411,"tpr":0.733},{"model":"ResNet50","fpr":0.436,"tpr":0.75},{"model":"ResNet50","fpr":0.454,"tpr":0.783},{"model":"ResNet50","fpr":0.491,"tpr":0.816},{"model":"ResNet50","fpr":0.54,"tpr":0.833},{"model":"ResNet50","fpr":0.576,"tpr":0.858},{"model":"ResNet50","fpr":0.626,"tpr":0.883},{"model":"ResNet50","fpr":0.662,"tpr":0.899},{"model":"ResNet50","fpr":0.724,"tpr":0.924},{"model":"ResNet50","fpr":0.785,"tpr":0.949},{"model":"ResNet50","fpr":0.847,"tpr":0.965},{"model":"ResNet50","fpr":0.908,"tpr":0.982},{"model":"ResNet50","fpr":0.957,"tpr":0.998},{"model":"ResNet50","fpr":1,"tpr":1},
{"model":"VGG16","fpr":0,"tpr":0},{"model":"VGG16","fpr":0.012,"tpr":0.195},{"model":"VGG16","fpr":0.018,"tpr":0.2},{"model":"VGG16","fpr":0.031,"tpr":0.235},{"model":"VGG16","fpr":0.049,"tpr":0.302},{"model":"VGG16","fpr":0.061,"tpr":0.327},{"model":"VGG16","fpr":0.092,"tpr":0.335},{"model":"VGG16","fpr":0.104,"tpr":0.393},{"model":"VGG16","fpr":0.141,"tpr":0.401},{"model":"VGG16","fpr":0.153,"tpr":0.485},{"model":"VGG16","fpr":0.184,"tpr":0.493},{"model":"VGG16","fpr":0.19,"tpr":0.56},{"model":"VGG16","fpr":0.214,"tpr":0.568},{"model":"VGG16","fpr":0.239,"tpr":0.601},{"model":"VGG16","fpr":0.27,"tpr":0.617},{"model":"VGG16","fpr":0.288,"tpr":0.65},{"model":"VGG16","fpr":0.3,"tpr":0.684},{"model":"VGG16","fpr":0.325,"tpr":0.692},{"model":"VGG16","fpr":0.35,"tpr":0.725},{"model":"VGG16","fpr":0.387,"tpr":0.758},{"model":"VGG16","fpr":0.411,"tpr":0.766},{"model":"VGG16","fpr":0.429,"tpr":0.8},{"model":"VGG16","fpr":0.454,"tpr":0.824},{"model":"VGG16","fpr":0.491,"tpr":0.841},{"model":"VGG16","fpr":0.54,"tpr":0.865},{"model":"VGG16","fpr":0.576,"tpr":0.899},{"model":"VGG16","fpr":0.626,"tpr":0.932},{"model":"VGG16","fpr":0.662,"tpr":0.94},{"model":"VGG16","fpr":0.699,"tpr":0.949},{"model":"VGG16","fpr":0.736,"tpr":0.973},{"model":"VGG16","fpr":0.785,"tpr":0.982},{"model":"VGG16","fpr":0.847,"tpr":0.99},{"model":"VGG16","fpr":0.93,"tpr":0.998},{"model":"VGG16","fpr":1,"tpr":1},
{"model":"Our model","fpr":0,"tpr":0},{"model":"Our model","fpr":0.012,"tpr":0.128},{"model":"Our model","fpr":0.018,"tpr":0.27},{"model":"Our model","fpr":0.031,"tpr":0.294},{"model":"Our model","fpr":0.043,"tpr":0.327},{"model":"Our model","fpr":0.049,"tpr":0.36},{"model":"Our model","fpr":0.067,"tpr":0.427},{"model":"Our model","fpr":0.086,"tpr":0.468},{"model":"Our model","fpr":0.11,"tpr":0.51},{"model":"Our model","fpr":0.141,"tpr":0.551},{"model":"Our model","fpr":0.172,"tpr":0.576},{"model":"Our model","fpr":0.202,"tpr":0.617},{"model":"Our model","fpr":0.221,"tpr":0.65},{"model":"Our model","fpr":0.251,"tpr":0.667},{"model":"Our model","fpr":0.288,"tpr":0.692},{"model":"Our model","fpr":0.313,"tpr":0.725},{"model":"Our model","fpr":0.35,"tpr":0.758},{"model":"Our model","fpr":0.387,"tpr":0.783},{"model":"Our model","fpr":0.429,"tpr":0.808},{"model":"Our model","fpr":0.479,"tpr":0.841},{"model":"Our model","fpr":0.54,"tpr":0.874},{"model":"Our model","fpr":0.601,"tpr":0.907},{"model":"Our model","fpr":0.662,"tpr":0.932},{"model":"Our model","fpr":0.724,"tpr":0.94},{"model":"Our model","fpr":0.785,"tpr":0.957},{"model":"Our model","fpr":0.847,"tpr":0.973},{"model":"Our model","fpr":0.908,"tpr":0.99},{"model":"Our model","fpr":0.957,"tpr":0.998},{"model":"Our model","fpr":1,"tpr":1}
]
},
"vconcat": [
{"hconcat": [
 {"width": 296, "height": 222,
  "layer": [
   {"data": {"name": "A"}, "mark": {"type": "line", "strokeWidth": 1.5},
    "encoding": {
     "x": {"field": "fpr", "type": "quantitative", "scale": {"domain": [-0.05, 1.05], "nice": false, "zero": false}, "axis": {"title": "False positive rate", "values": [0,0.2,0.4,0.6,0.8,1], "format": ".1f"}},
     "y": {"field": "tpr", "type": "quantitative", "scale": {"domain": [-0.05, 1.05], "nice": false, "zero": false}, "axis": {"title": "True positive rate", "values": [0,0.2,0.4,0.6,0.8,1], "format": ".1f"}},
     "stroke": {"field": "model", "type": "nominal", "scale": {"domain": ["InceptionV3","DenseNet121","InceptionResNet","ResNet50","VGG16","Our model"], "range": ["#4e9ad6","#f99a46","#f23b3b","#5db55a","#f3e83a","#ad86dc"]}, "legend": null},
     "order": [{"field": "fpr"}, {"field": "tpr"}]}},
   {"data": {"name": "A"}, "transform": [{"filter": "datum.fpr > 5"}], "mark": {"type": "line"},
    "encoding": {"x": {"field": "fpr", "type": "quantitative"}, "y": {"field": "tpr", "type": "quantitative"},
     "color": {"field": "model", "type": "nominal", "scale": {"domain": ["InceptionV3\u00a0\u00a0\u00a0(area = 66.19%)","DenseNet121\u00a0\u00a0(area = 67.14%)","InceptionResNet(area =73.24%)","ResNet50\u00a0\u00a0(area = 74.57%)","VGG16\u00a0\u00a0(area = 76.46%)","Our model\u00a0\u00a0(area = 83.17%)"], "range": ["#4e9ad6","#f99a46","#f23b3b","#5db55a","#f3e83a","#ad86dc"]}, "legend": {}}}},
   {"data": {"values": [{"t": "EGFR"}]}, "mark": {"type": "text", "fontStyle": "italic", "fontSize": 11.5, "align": "right", "baseline": "alphabetic", "color": "#222"}, "encoding": {"text": {"field": "t"}, "x": {"datum": 0.44}, "y": {"datum": 1.072}}},
   {"data": {"values": [{"t": "ROC curve"}]}, "mark": {"type": "text", "fontSize": 11.5, "align": "left", "baseline": "alphabetic", "color": "#222"}, "encoding": {"text": {"field": "t"}, "x": {"datum": 0.452}, "y": {"datum": 1.072}}},
   {"data": {"values": [{"t": "A"}]}, "mark": {"type": "text", "fontSize": 16, "align": "center", "baseline": "alphabetic", "color": "#111"}, "encoding": {"text": {"field": "t"}, "x": {"datum": -0.162}, "y": {"datum": 1.035}}}
  ]},
 {"width": 296, "height": 222,
  "layer": [
   {"data": {"name": "B"}, "mark": {"type": "line", "strokeWidth": 1.5},
    "encoding": {
     "x": {"field": "fpr", "type": "quantitative", "scale": {"domain": [-0.05, 1.05], "nice": false, "zero": false}, "axis": {"title": "False positive rate", "values": [0,0.2,0.4,0.6,0.8,1], "format": ".1f"}},
     "y": {"field": "tpr", "type": "quantitative", "scale": {"domain": [-0.05, 1.05], "nice": false, "zero": false}, "axis": {"title": "True positive rate", "values": [0,0.2,0.4,0.6,0.8,1], "format": ".1f"}},
     "stroke": {"field": "model", "type": "nominal", "scale": {"domain": ["InceptionV3","DenseNet121","InceptionResNet","ResNet50","VGG16","Our model"], "range": ["#4e9ad6","#f99a46","#f23b3b","#5db55a","#f3e83a","#ad86dc"]}, "legend": null},
     "order": [{"field": "fpr"}, {"field": "tpr"}]}},
   {"data": {"name": "B"}, "transform": [{"filter": "datum.fpr > 5"}], "mark": {"type": "line"},
    "encoding": {"x": {"field": "fpr", "type": "quantitative"}, "y": {"field": "tpr", "type": "quantitative"},
     "color": {"field": "model", "type": "nominal", "scale": {"domain": ["InceptionV3\u00a0\u00a0\u00a0(area = 64.97%)","DenseNet121\u00a0\u00a0(area = 65.24%)","InceptionResNet(area =70.64%)","ResNet50\u00a0\u00a0(area = 72.13%)","VGG16\u00a0\u00a0(area = 72.18%)","Our model\u00a0\u00a0(area = 76.29%)"], "range": ["#4e9ad6","#f99a46","#f23b3b","#5db55a","#f3e83a","#ad86dc"]}, "legend": {}}}},
   {"data": {"values": [{"t": "KRAS"}]}, "mark": {"type": "text", "fontStyle": "italic", "fontSize": 11.5, "align": "right", "baseline": "alphabetic", "color": "#222"}, "encoding": {"text": {"field": "t"}, "x": {"datum": 0.433}, "y": {"datum": 1.072}}},
   {"data": {"values": [{"t": "ROC curve"}]}, "mark": {"type": "text", "fontSize": 11.5, "align": "left", "baseline": "alphabetic", "color": "#222"}, "encoding": {"text": {"field": "t"}, "x": {"datum": 0.445}, "y": {"datum": 1.072}}},
   {"data": {"values": [{"t": "B"}]}, "mark": {"type": "text", "fontSize": 16, "align": "center", "baseline": "alphabetic", "color": "#111"}, "encoding": {"text": {"field": "t"}, "x": {"datum": -0.155}, "y": {"datum": 1.035}}}
  ]}
 ], "spacing": 43, "bounds": "flush",
 "resolve": {"scale": {"x": "independent", "y": "independent", "color": "independent", "stroke": "independent"}, "legend": {"color": "independent"}}},
{"hconcat": [
 {"width": 296, "height": 222,
  "layer": [
   {"data": {"name": "C"}, "mark": {"type": "line", "strokeWidth": 1.5},
    "encoding": {
     "x": {"field": "fpr", "type": "quantitative", "scale": {"domain": [-0.05, 1.05], "nice": false, "zero": false}, "axis": {"title": "False positive rate", "values": [0,0.2,0.4,0.6,0.8,1], "format": ".1f"}},
     "y": {"field": "tpr", "type": "quantitative", "scale": {"domain": [-0.05, 1.05], "nice": false, "zero": false}, "axis": {"title": "True positive rate", "values": [0,0.2,0.4,0.6,0.8,1], "format": ".1f"}},
     "stroke": {"field": "model", "type": "nominal", "scale": {"domain": ["InceptionV3","DenseNet121","InceptionResNet","ResNet50","VGG16","Our model"], "range": ["#4e9ad6","#f99a46","#f23b3b","#5db55a","#f3e83a","#ad86dc"]}, "legend": null},
     "order": [{"field": "fpr"}, {"field": "tpr"}]}},
   {"data": {"name": "C"}, "transform": [{"filter": "datum.fpr > 5"}], "mark": {"type": "line"},
    "encoding": {"x": {"field": "fpr", "type": "quantitative"}, "y": {"field": "tpr", "type": "quantitative"},
     "color": {"field": "model", "type": "nominal", "scale": {"domain": ["InceptionV3\u00a0\u00a0\u00a0(area = 69.24%)","DenseNet121\u00a0\u00a0(area = 65.19%)","InceptionResNet(area=75.08%)","ResNet50\u00a0\u00a0(area = 77.19%)","VGG16\u00a0\u00a0(area = 78.64%)","Our model\u00a0\u00a0(area = 86.56%)"], "range": ["#4e9ad6","#f99a46","#f23b3b","#5db55a","#f23b3b","#ad86dc"]}, "legend": {}}}},
   {"data": {"values": [{"t": "Multi"}]}, "mark": {"type": "text", "fontSize": 11.5, "align": "right", "baseline": "alphabetic", "color": "#222"}, "encoding": {"text": {"field": "t"}, "x": {"datum": 0.376}, "y": {"datum": 1.072}}},
   {"data": {"values": [{"t": "EGFR"}]}, "mark": {"type": "text", "fontStyle": "italic", "fontSize": 11.5, "align": "center", "baseline": "alphabetic", "color": "#222"}, "encoding": {"text": {"field": "t"}, "x": {"datum": 0.443}, "y": {"datum": 1.072}}},
   {"data": {"values": [{"t": "ROC curve"}]}, "mark": {"type": "text", "fontSize": 11.5, "align": "left", "baseline": "alphabetic", "color": "#222"}, "encoding": {"text": {"field": "t"}, "x": {"datum": 0.511}, "y": {"datum": 1.072}}},
   {"data": {"values": [{"t": "C"}]}, "mark": {"type": "text", "fontSize": 16, "align": "center", "baseline": "alphabetic", "color": "#111"}, "encoding": {"text": {"field": "t"}, "x": {"datum": -0.161}, "y": {"datum": 1.035}}}
  ]},
 {"width": 296, "height": 222,
  "layer": [
   {"data": {"name": "D"}, "mark": {"type": "line", "strokeWidth": 1.5},
    "encoding": {
     "x": {"field": "fpr", "type": "quantitative", "scale": {"domain": [-0.05, 1.05], "nice": false, "zero": false}, "axis": {"title": "False positive rate", "values": [0,0.2,0.4,0.6,0.8,1], "format": ".1f"}},
     "y": {"field": "tpr", "type": "quantitative", "scale": {"domain": [-0.05, 1.05], "nice": false, "zero": false}, "axis": {"title": "True positive rate", "values": [0,0.2,0.4,0.6,0.8,1], "format": ".1f"}},
     "stroke": {"field": "model", "type": "nominal", "scale": {"domain": ["InceptionV3","DenseNet121","InceptionResNet","ResNet50","VGG16","Our model"], "range": ["#4e9ad6","#f99a46","#f23b3b","#5db55a","#f3e83a","#ad86dc"]}, "legend": null},
     "order": [{"field": "fpr"}, {"field": "tpr"}]}},
   {"data": {"name": "D"}, "transform": [{"filter": "datum.fpr > 5"}], "mark": {"type": "line"},
    "encoding": {"x": {"field": "fpr", "type": "quantitative"}, "y": {"field": "tpr", "type": "quantitative"},
     "color": {"field": "model", "type": "nominal", "scale": {"domain": ["InceptionV3\u00a0\u00a0\u00a0(area = 68.67%)","DenseNet121\u00a0\u00a0(area = 64.82%)","InceptionResNet(area =72.48%)","ResNet50\u00a0\u00a0(area = 76.24%)","VGG16\u00a0\u00a0(area = 76.49%)","Our model\u00a0\u00a0(area = 78.97%)"], "range": ["#4e9ad6","#f99a46","#f23b3b","#5db55a","#f3e83a","#ad86dc"]}, "legend": {}}}},
   {"data": {"values": [{"t": "Multi"}]}, "mark": {"type": "text", "fontSize": 11.5, "align": "right", "baseline": "alphabetic", "color": "#222"}, "encoding": {"text": {"field": "t"}, "x": {"datum": 0.3835}, "y": {"datum": 1.072}}},
   {"data": {"values": [{"t": "KRAS"}]}, "mark": {"type": "text", "fontStyle": "italic", "fontSize": 11.5, "align": "center", "baseline": "alphabetic", "color": "#222"}, "encoding": {"text": {"field": "t"}, "x": {"datum": 0.455}, "y": {"datum": 1.072}}},
   {"data": {"values": [{"t": "ROC curve"}]}, "mark": {"type": "text", "fontSize": 11.5, "align": "left", "baseline": "alphabetic", "color": "#222"}, "encoding": {"text": {"field": "t"}, "x": {"datum": 0.526}, "y": {"datum": 1.072}}},
   {"data": {"values": [{"t": "D"}]}, "mark": {"type": "text", "fontSize": 16, "align": "center", "baseline": "alphabetic", "color": "#111"}, "encoding": {"text": {"field": "t"}, "x": {"datum": -0.152}, "y": {"datum": 1.035}}}
  ]}
 ], "spacing": 43, "bounds": "flush",
 "resolve": {"scale": {"x": "independent", "y": "independent", "color": "independent", "stroke": "independent"}, "legend": {"color": "independent"}}}
],
"config": {
 "font": "Liberation Sans",
 "view": {"stroke": "#3a3a3a", "strokeWidth": 1},
 "axis": {"grid": false, "domain": false, "ticks": true, "tickColor": "#3a3a3a", "tickSize": 4, "labelFontSize": 11.5, "labelColor": "#222", "labelPadding": 2, "titleFontSize": 12, "titleFontWeight": "normal", "titleColor": "#222"},
 "axisX": {"titlePadding": 3},
 "axisY": {"titlePadding": 0},
 "legend": {"orient": "bottom-right", "offset": 4, "title": null, "strokeColor": "#cccccc", "fillColor": "rgba(255,255,255,0.85)", "cornerRadius": 3, "padding": 3, "labelFontSize": 9.5, "labelColor": "#222", "rowPadding": 0.6, "symbolType": "M-2,0H2", "symbolSize": 100, "symbolStrokeWidth": 2, "labelOffset": 8, "symbolOffset": 3}
}
}
